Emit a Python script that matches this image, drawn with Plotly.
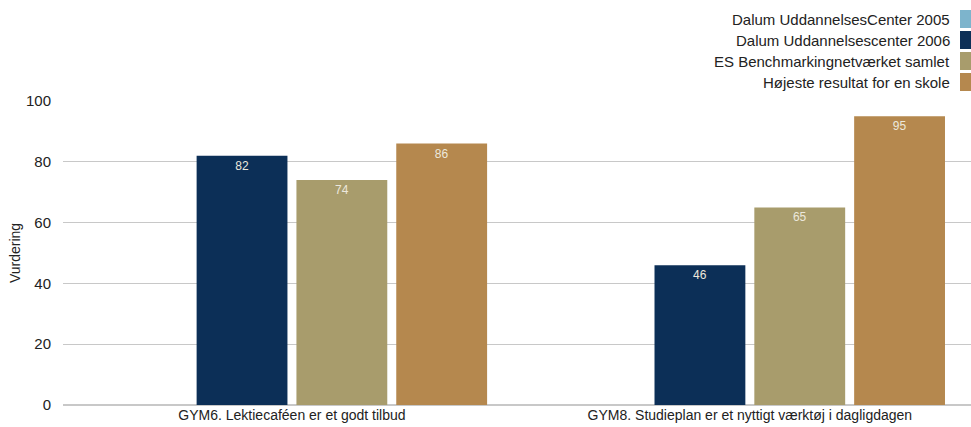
import plotly.graph_objects as go

categories = ["GYM6. Lektiecaféen er et godt tilbud",
              "GYM8. Studieplan er et nyttigt værktøj i dagligdagen"]
series_names = ["Dalum UddannelsesCenter 2005",
                "Dalum Uddannelsescenter 2006",
                "ES Benchmarkingnetværket samlet",
                "Højeste resultat for en skole"]
values_2005 = [None, None]
values_2006 = [82, 46]
values_es = [74, 65]
values_max = [86, 95]
colors = ["#7db4cc", "#0c2f57", "#a89c6c", "#b5884e"]

FONT = "Liberation Sans"
TXT = "#222222"
series_values = [values_2005, values_2006, values_es, values_max]

fig = go.Figure()
for name, vals, col in zip(series_names, series_values, colors):
    fig.add_trace(go.Bar(
        x=categories, y=vals, name=name, marker_color=col,
        marker_line_width=0,
        text=[("" if v is None else str(v)) for v in vals],
        textposition="inside", insidetextanchor="end",
        textfont=dict(family=FONT, size=12, color="#ece8dc"),
        textangle=0,
        showlegend=False,
    ))

# plot area geometry in page pixels
PL, PR, PT, PB = 63, 971, 101, 405
PW, PH = PR - PL, PB - PT

annotations = []
shapes = []
row_y = [19, 40, 61, 82]
for i, (name, col) in enumerate(zip(series_names, colors)):
    py = row_y[i]
    yp = (PB - py) / PH
    annotations.append(dict(
        xref="paper", yref="paper", x=(952 - PL) / PW, y=yp,
        xanchor="right", yanchor="middle", text=name, showarrow=False,
        font=dict(family=FONT, size=15, color=TXT)))
    shapes.append(dict(
        type="rect", xref="paper", yref="paper",
        x0=(960 - PL) / PW, x1=1.0,
        y0=(PB - (py + 9)) / PH, y1=(PB - (py - 9)) / PH,
        fillcolor=col, line=dict(width=0)))

fig.update_layout(
    width=971, height=427,
    margin=dict(l=PL, r=0, t=PT, b=427 - PB),
    paper_bgcolor="white", plot_bgcolor="white",
    barmode="group", bargap=0.128, bargroupgap=0.09,
    font=dict(family=FONT, size=14, color=TXT),
    annotations=annotations, shapes=shapes,
    uniformtext=dict(minsize=8, mode="show"),
)
fig.update_xaxes(range=[-0.5, 1.483], showgrid=False, showline=False,
                 ticks="", tickfont=dict(family=FONT, size=14, color=TXT))
fig.update_yaxes(range=[0, 100], dtick=20, showgrid=True, gridcolor="#c8c8c8",
                 gridwidth=1, zeroline=True, zerolinecolor="#c8c8c8", zerolinewidth=2,
                 showline=False, ticks="", ticklabelstandoff=11,
                 tickfont=dict(family=FONT, size=15, color=TXT),
                 title=dict(text="Vurdering", font=dict(family=FONT, size=14, color=TXT),
                            standoff=2))

fig.write_html("out.html",
               config={"displayModeBar": False},
               post_script="document.body.style.margin='0';document.body.style.overflow='hidden';")
